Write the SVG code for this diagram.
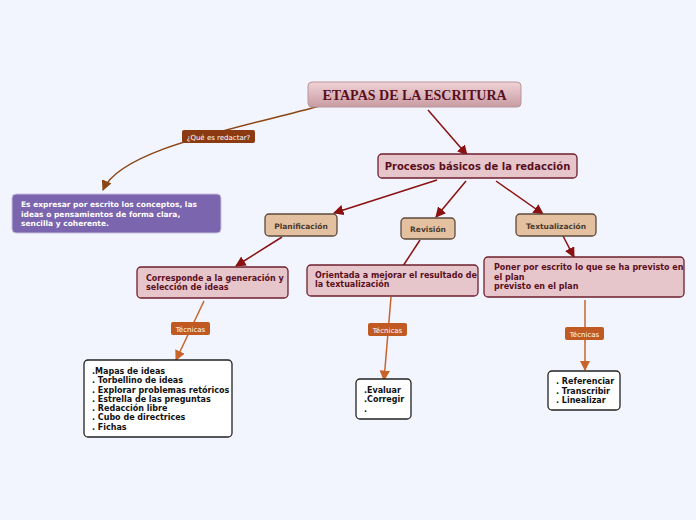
<svg xmlns="http://www.w3.org/2000/svg" width="696" height="520" viewBox="0 0 696 520">
<defs>
<style>
text{font-family:Verdana,"DejaVu Sans",sans-serif;font-weight:bold}
.t{font-size:8px;fill:#5a0f1e}
.w{font-size:8px;fill:#111}
.p{fill:#e7c6cb;stroke:#6e1f2c;stroke-width:1.3}
.b{fill:#e3c09f;stroke:#5c4a3a;stroke-width:1.3}
.wb{fill:#fff;stroke:#222;stroke-width:1.3}
.lab{font-size:7px;fill:#fff;font-weight:normal}
.r{stroke:#8b1010;stroke-width:1.5;fill:none}
.o{stroke:#c8642a;stroke-width:1.5;fill:none}
</style>
<marker id="ar" viewBox="0 0 10 10" refX="9" refY="5" markerWidth="7" markerHeight="7" orient="auto"><path d="M0,0L10,5L0,10z" fill="#8b1010"/></marker>
<marker id="ao" viewBox="0 0 10 10" refX="9" refY="5" markerWidth="7" markerHeight="7" orient="auto"><path d="M0,0L10,5L0,10z" fill="#c8642a"/></marker>
<marker id="ab" viewBox="0 0 10 10" refX="9" refY="5" markerWidth="7" markerHeight="7" orient="auto"><path d="M0,0L10,5L0,10z" fill="#8b4513"/></marker>
<linearGradient id="g" x1="0" y1="0" x2="0" y2="1"><stop offset="0" stop-color="#f0d2d6"/><stop offset="1" stop-color="#c89ca3"/></linearGradient>
</defs>
<rect width="696" height="520" fill="#f2f5fe"/>
<g id="connectors">
<path d="M320,106 C230,130 120,150 103,190" stroke="#8b4513" stroke-width="1.5" fill="none" marker-end="url(#ab)"/>
<path class="r" d="M428,110 L467,155" marker-end="url(#ar)"/>
<path class="r" d="M437,180 L334,213" marker-end="url(#ar)"/>
<path class="r" d="M466,181 L436,217" marker-end="url(#ar)"/>
<path class="r" d="M496,181 L543,214" marker-end="url(#ar)"/>
<path class="r" d="M282,237 L236,266" marker-end="url(#ar)"/>
<path class="r" d="M420,240 L403,266"/>
<path class="r" d="M563,236 L574,257" marker-end="url(#ar)"/>
<path class="o" d="M204,301 L176,360" marker-end="url(#ao)"/>
<path class="o" d="M391,297 L384,380" marker-end="url(#ao)"/>
<path class="o" d="M585,300 L585,370" marker-end="url(#ao)"/>
<rect x="182" y="130" width="73" height="13" rx="2" fill="#8b3a12"/><text class="lab" x="218.5" y="139.5" text-anchor="middle">¿Qué es redactar?</text>
<rect x="171" y="322" width="39" height="13" rx="2" fill="#c05a22"/><text class="lab" x="190.5" y="331.5" text-anchor="middle">Técnicas</text>
<rect x="368" y="323" width="39" height="13" rx="2" fill="#c05a22"/><text class="lab" x="387.5" y="332.5" text-anchor="middle">Técnicas</text>
<rect x="565" y="327" width="39" height="13" rx="2" fill="#c05a22"/><text class="lab" x="584.5" y="336.5" text-anchor="middle">Técnicas</text>
</g>
<g id="root"><rect x="308" y="82" width="213" height="25" rx="4" fill="url(#g)" stroke="#b8959a"/><text x="414.5" y="100" text-anchor="middle" style="font-family:'Liberation Serif',serif;font-size:14px;fill:#5a0f1e">ETAPAS DE LA ESCRITURA</text></g>
<g id="procesos"><rect class="p" x="378" y="154" width="199" height="24" rx="4"/><text class="t" x="477.5" y="170" text-anchor="middle" style="font-size:10px">Procesos básicos de la redacción</text></g>
<g id="def"><rect x="12" y="194" width="209" height="39" rx="4" fill="#7b65ae" stroke="#c8c0dc"/><text x="21" y="207" style="font-size:7.5px;fill:#fff">Es expresar por escrito los conceptos, las</text><text x="21" y="217" style="font-size:7.5px;fill:#fff">ideas o pensamientos de forma clara,</text><text x="21" y="226" style="font-size:7.5px;fill:#fff">sencilla y coherente.</text></g>
<g id="planif"><rect class="b" x="265" y="214" width="72" height="22" rx="4"/><text x="301" y="228.5" text-anchor="middle" style="font-size:7.5px;fill:#4a3a30">Planificación</text></g>
<g id="revision"><rect class="b" x="401" y="218" width="54" height="21" rx="4"/><text x="428" y="232" text-anchor="middle" style="font-size:7.5px;fill:#4a3a30">Revisión</text></g>
<g id="textual"><rect class="b" x="516" y="214" width="80" height="22" rx="4"/><text x="556" y="228.5" text-anchor="middle" style="font-size:7.5px;fill:#4a3a30">Textualización</text></g>
<g id="corresp"><rect class="p" x="137" y="267" width="151" height="31" rx="4"/><text class="t" x="146" y="281">Corresponde a la generación y</text><text class="t" x="146" y="290">selección de ideas</text></g>
<g id="orient"><rect class="p" x="307" y="265" width="171" height="31" rx="4"/><text class="t" x="315" y="278">Orientada a mejorar el resultado de</text><text class="t" x="315" y="287">la textualización</text></g>
<g id="poner"><rect class="p" x="484" y="257" width="200" height="40" rx="4"/><text class="t" x="494" y="270">Poner por escrito lo que se ha previsto en</text><text class="t" x="494" y="280">el plan</text><text class="t" x="494" y="289">previsto en el plan</text></g>
<g id="tec1"><rect class="wb" x="84" y="360" width="148" height="77" rx="4"/><text class="w" x="92" y="374">.Mapas de ideas</text><text class="w" x="92" y="383">. Torbellino de ideas</text><text class="w" x="92" y="393">. Explorar problemas retóricos</text><text class="w" x="92" y="402">. Estrella de las preguntas</text><text class="w" x="92" y="411">. Redacción libre</text><text class="w" x="92" y="420">. Cubo de directrices</text><text class="w" x="92" y="430">. Fichas</text></g>
<g id="tec2"><rect class="wb" x="356" y="379" width="55" height="40" rx="4"/><text class="w" x="364" y="393">.Evaluar</text><text class="w" x="364" y="402">.Corregir</text><text class="w" x="364" y="412">.</text></g>
<g id="tec3"><rect class="wb" x="548" y="371" width="72" height="39" rx="4"/><text class="w" x="556" y="384">. Referenciar</text><text class="w" x="556" y="394">. Transcribir</text><text class="w" x="556" y="403">. Linealizar</text></g>
</svg>
